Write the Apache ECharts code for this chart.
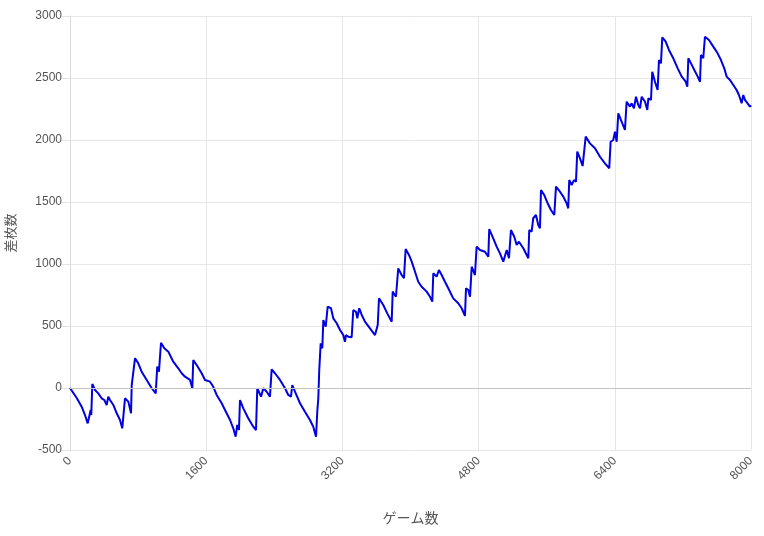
<!DOCTYPE html>
<html>
<head>
<meta charset="utf-8">
<script src="https://cdn.jsdelivr.net/npm/echarts@6/dist/echarts.min.js"></script>
<style>
html,body{margin:0;padding:0;background:#fff;}
#chart{width:764px;height:536px;}
</style>
</head>
<body>
<div id="chart"></div>
<script>
const xTicks = [0, 1600, 3200, 4800, 6400, 8000];
const yTicks = [-500, 0, 500, 1000, 1500, 2000, 2500, 3000];
const games = [0,79,137,176,208,227,243,250,262,294,332,372,403,431,450,470,509,549,587,614,634,646,685,717,725,744,764,802,842,901,960,1007,1025,1045,1069,1108,1155,1213,1272,1312,1351,1410,1437,1448,1488,1547,1586,1645,1683,1723,1782,1821,1880,1918,1946,1965,1985,1997,2036,2094,2153,2185,2200,2220,2244,2271,2311,2349,2369,2408,2467,2526,2564,2596,2611,2643,2702,2760,2819,2858,2890,2905,2917,2928,2945,2964,2976,3004,3027,3066,3093,3133,3172,3210,3230,3242,3269,3309,3328,3360,3375,3398,3427,3465,3524,3583,3603,3615,3630,3680,3727,3779,3791,3829,3845,3856,3896,3923,3943,3982,4014,4053,4091,4131,4190,4229,4256,4268,4307,4334,4366,4405,4444,4502,4561,4601,4640,4652,4679,4699,4719,4757,4777,4816,4875,4914,4925,4972,5012,5051,5090,5110,5130,5157,5180,5219,5247,5274,5294,5325,5365,5384,5395,5423,5442,5474,5501,5521,5533,5571,5611,5650,5689,5697,5709,5756,5795,5834,5853,5865,5893,5920,5944,5959,5991,6022,6041,6058,6108,6167,6226,6284,6335,6351,6382,6402,6422,6441,6480,6519,6539,6578,6598,6625,6649,6676,6696,6716,6755,6782,6794,6825,6840,6872,6903,6919,6942,6958,6998,7036,7087,7139,7186,7233,7252,7264,7295,7334,7374,7401,7412,7439,7459,7506,7557,7608,7647,7686,7714,7753,7792,7831,7858,7890,7909,7929,7949,7988,8000];
const diff = [0,-81,-151,-218,-285,-285,-177,-218,32,-16,-43,-83,-97,-137,-70,-97,-137,-204,-258,-325,-325,-83,-110,-204,24,32,240,199,131,65,-2,-43,172,131,365,320,293,212,159,119,91,65,-2,226,185,119,65,51,10,-56,-123,-177,-258,-325,-393,-298,-339,-97,-164,-244,-312,-339,-2,-2,-70,-2,-30,-70,151,119,65,-2,-56,-70,24,-30,-123,-191,-258,-312,-393,-191,-83,145,360,320,548,494,656,643,562,522,468,427,373,427,414,409,629,615,562,643,589,535,481,427,414,508,723,669,602,535,777,736,723,965,911,885,1121,1073,1019,938,857,817,777,736,696,925,898,952,911,857,804,723,683,643,581,804,790,736,978,911,1140,1113,1099,1059,1282,1207,1140,1086,1019,1019,1113,1046,1274,1220,1153,1180,1194,1127,1073,1046,1274,1261,1369,1395,1315,1288,1597,1556,1490,1435,1395,1395,1624,1583,1543,1490,1449,1677,1637,1677,1664,1906,1852,1790,1790,2027,1973,1933,1865,1812,1772,1986,2000,2067,1986,2215,2148,2081,2309,2269,2296,2256,2349,2282,2256,2349,2309,2242,2336,2323,2551,2470,2403,2645,2618,2828,2793,2726,2659,2578,2511,2470,2430,2659,2618,2565,2511,2470,2686,2659,2833,2806,2753,2699,2645,2578,2511,2484,2444,2403,2363,2296,2363,2323,2309,2269,2280];

const chart = echarts.init(document.getElementById('chart'), null, {renderer: 'canvas'});
const font = "'Liberation Sans', Arial, 'Noto Sans CJK JP', sans-serif";
chart.setOption({
  animation: false,
  backgroundColor: '#ffffff',
  textStyle: {fontFamily: font},
  grid: {left: 70, right: 13, top: 16, bottom: 86, containLabel: false, outerBoundsMode: 'none'},
  xAxis: {
    type: 'value',
    min: xTicks[0], max: xTicks[xTicks.length - 1], interval: 1600,
    name: 'ゲーム数', nameLocation: 'middle', nameGap: 62,
    nameTextStyle: {color: '#555', fontSize: 14, fontFamily: font},
    axisLine: {show: true, lineStyle: {color: '#dcdcdc'}},
    axisTick: {show: true, length: 8, lineStyle: {color: '#e3e3e3'}},
    axisLabel: {rotate: 45, color: '#555', fontSize: 12, margin: 9, fontFamily: font,
      formatter: v => String(v)},
    splitLine: {show: true, lineStyle: {color: '#e6e6e6'}}
  },
  yAxis: {
    type: 'value',
    min: yTicks[0], max: yTicks[yTicks.length - 1], interval: 500,
    name: '差枚数', nameLocation: 'middle', nameGap: 52,
    nameTextStyle: {color: '#555', fontSize: 13, fontFamily: font},
    axisLine: {show: true, lineStyle: {color: '#dcdcdc'}},
    axisTick: {show: true, length: 8, lineStyle: {color: '#e3e3e3'}},
    axisLabel: {color: '#555', fontSize: 12, margin: 8, fontFamily: font,
      formatter: v => String(v)},
    splitLine: {show: true, lineStyle: {color: '#e6e6e6'}}
  },
  series: [{
    type: 'line',
    data: games.map((g, i) => [g, diff[i]]),
    showSymbol: false,
    symbol: 'none',
    lineStyle: {color: '#0000e0', width: 2},
    markLine: {
      silent: true, symbol: 'none', label: {show: false},
      lineStyle: {color: '#c4c4c4', width: 1, type: 'solid'},
      data: [{yAxis: 0}]
    }
  }]
});
</script>
</body>
</html>
